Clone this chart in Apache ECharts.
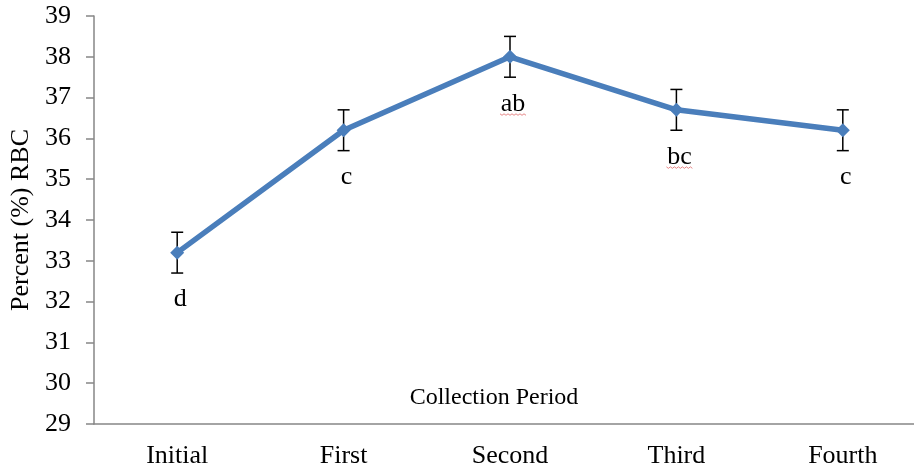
<!DOCTYPE html>
<html>
<head>
<meta charset="utf-8">
<script src="https://cdn.jsdelivr.net/npm/echarts@6/dist/echarts.min.js"></script>
<style>
  html, body { margin: 0; padding: 0; background: #fff; }
  #chart { width: 914px; height: 469px; }
</style>
</head>
<body>
<div id="chart"></div>
<script>
// Percent RBC by collection period, with ±error and significance letters
const categories = ['Initial', 'First', 'Second', 'Third', 'Fourth'];
const rbcPercent = [33.2, 36.2, 38.0, 36.7, 36.2];
const rbcError = [0.5, 0.5, 0.5, 0.5, 0.5];
const groupLetters = ['d', 'c', 'ab', 'bc', 'c'];
const yMin = 29, yMax = 39, yStep = 1;

const serif = '"Liberation Serif", "Times New Roman", serif';
const axisGray = '#868686';

const chart = echarts.init(document.getElementById('chart'), null, { renderer: 'canvas' });

const barData = categories.map((c, i) => [i, rbcPercent[i], rbcError[i]]);

// wavy underline used under flagged words
function squiggle(x0, x1, y) {
  const pts = [];
  let up = true;
  for (let x = x0; x <= x1; x += 2) {
    pts.push([x, up ? y : y + 1.5]);
    up = !up;
  }
  return pts;
}

chart.setOption({
  animation: false,
  grid: { left: 94, width: 832, top: 16, height: 408, outerBoundsMode: 'none', containLabel: false },
  xAxis: {
    type: 'category',
    data: categories,
    boundaryGap: true,
    name: 'Collection Period',
    nameLocation: 'middle',
    nameGap: -38,
    nameTextStyle: { fontFamily: serif, fontSize: 24, color: '#000', padding: [0, 32, 0, 0] },
    axisLine: { lineStyle: { color: axisGray, width: 1.5 } },
    axisTick: { alignWithLabel: false, length: 5, lineStyle: { color: axisGray, width: 1.5 } },
    axisLabel: { fontFamily: serif, fontSize: 26, color: '#000', margin: 19 }
  },
  yAxis: {
    type: 'value',
    min: yMin, max: yMax, interval: yStep,
    name: 'Percent (%) RBC',
    nameLocation: 'middle',
    nameGap: 60,
    nameTextStyle: { fontFamily: serif, fontSize: 26, color: '#000' },
    axisLine: { show: true, lineStyle: { color: axisGray, width: 1.5 } },
    axisTick: { show: true, length: 8, lineStyle: { color: axisGray, width: 1.5 } },
    axisLabel: { fontFamily: serif, fontSize: 26, color: '#000', margin: 23 },
    splitLine: { show: false }
  },
  series: [
    {
      type: 'custom',
      data: barData,
      z: 1,
      renderItem: function (params, api) {
        const i = api.value(0), v = api.value(1), e = api.value(2);
        const letter = groupLetters[params.dataIndex];
        const top = api.coord([i, v + e]);
        const bot = api.coord([i, v - e]);
        const mid = api.coord([i, v]);
        const cap = 6;
        const stroke = { stroke: '#000', lineWidth: 1.5 };
        const tx = mid[0] + 3;
        const baseline = mid[1] + 55;
        const children = [
          { type: 'line', shape: { x1: top[0], y1: top[1], x2: bot[0], y2: bot[1] }, style: stroke },
          { type: 'line', shape: { x1: top[0] - cap, y1: top[1], x2: top[0] + cap, y2: top[1] }, style: stroke },
          { type: 'line', shape: { x1: bot[0] - cap, y1: bot[1], x2: bot[0] + cap, y2: bot[1] }, style: stroke },
          {
            type: 'text',
            style: {
              text: letter, x: tx, y: baseline + 5,
              align: 'center', verticalAlign: 'bottom',
              font: '26px ' + serif, fill: '#000'
            }
          }
        ];
        if (letter.length > 1) {
          const w = 26;
          children.push({
            type: 'polyline',
            shape: { points: squiggle(tx - w / 2, tx + w / 2, baseline + 2) },
            style: { stroke: '#e06a6a', lineWidth: 0.8, fill: null }
          });
        }
        return { type: 'group', children: children };
      }
    },
    {
      type: 'line',
      data: rbcPercent,
      z: 3,
      symbol: 'diamond',
      symbolSize: 14,
      lineStyle: { color: '#4a7ebb', width: 5.5 },
      itemStyle: { color: '#4a7ebb' }
    }
  ]
});
</script>
</body>
</html>
